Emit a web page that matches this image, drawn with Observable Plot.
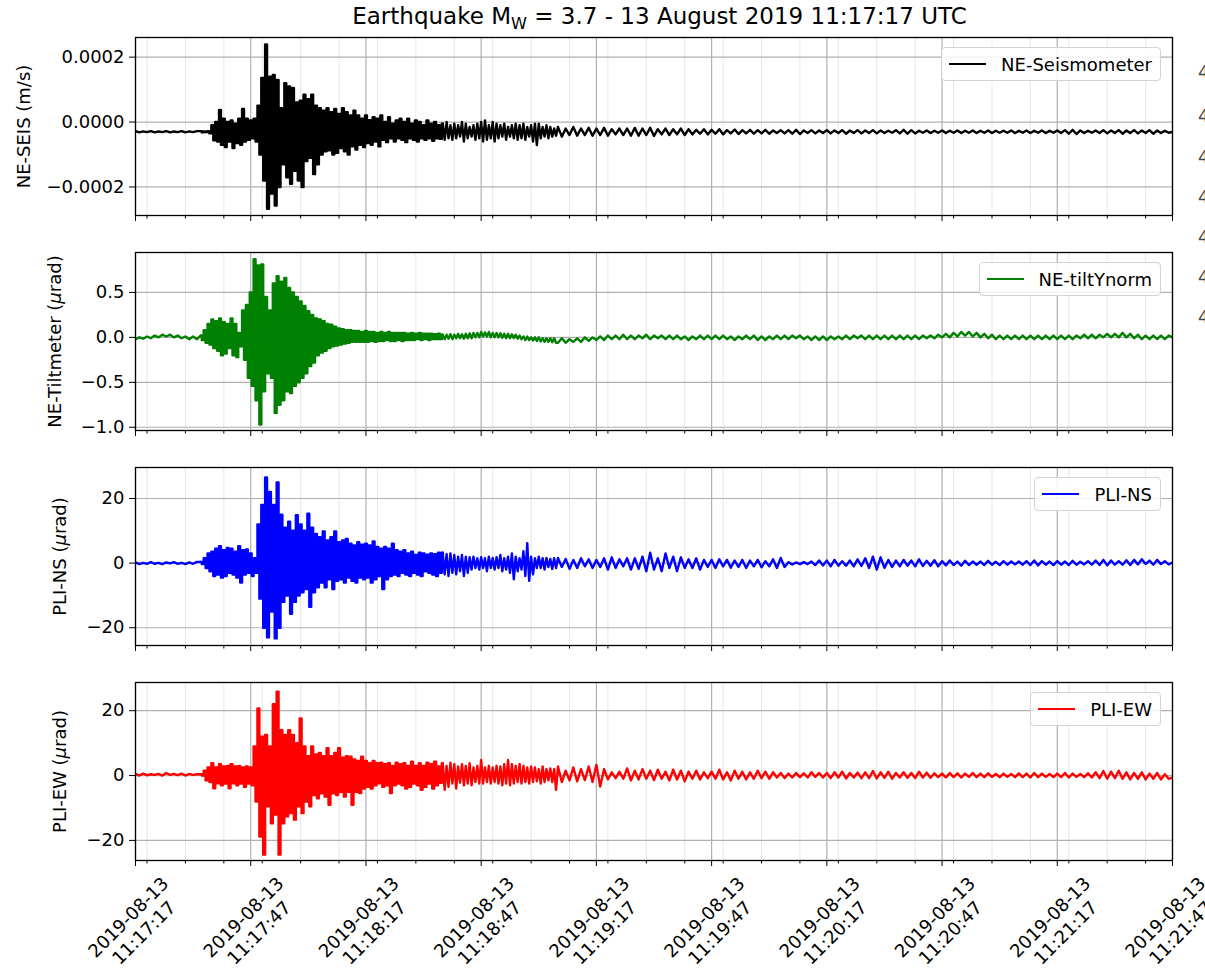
<!DOCTYPE html>
<html><head><meta charset="utf-8">
<script src="https://cdn.jsdelivr.net/npm/d3@7"></script>
<script src="https://cdn.jsdelivr.net/npm/@observablehq/plot@0.6"></script>
<style>
html,body{margin:0;padding:0;background:#fff;overflow:hidden;}
#fig{position:relative;width:1205px;height:968px;overflow:hidden;font-family:"DejaVu Sans",sans-serif;color:#000;}
.panel{position:absolute;left:0;}
.title{position:absolute;left:141px;width:1037px;top:3px;text-align:center;font-size:23px;white-space:nowrap;}
.title sub{font-size:70%;vertical-align:-0.3em;line-height:0;}
.legend{position:absolute;right:44px;height:34px;box-sizing:border-box;border:1px solid #d3d3d3;border-radius:4px;background:rgba(255,255,255,0.85);display:flex;align-items:center;padding:0 8px 0 7px;font-size:18px;white-space:nowrap;}
.legend .sw{width:37px;height:2.7px;margin-right:15px;}
.edge{position:absolute;left:1198px;font-size:18px;color:#444;}
</style></head><body><div id="fig"></div>
<script>
// ---------- data ----------
// samples: 1 s steps before 11:17:34, 0.5 s steps 11:17:34–11:19:07, 1 s steps afterwards
const startTime = "2019-08-13T11:17:17Z";
const endTime = "2019-08-13T11:21:47Z";

// NE-Seismometer, in units of 1e-4 m/s
const seisPre = [-0.28,-0.32,-0.29,-0.31,-0.28,-0.32,-0.29,-0.31,-0.28,-0.32,-0.29,-0.31,-0.28,-0.32,-0.29,-0.31,-0.28];
const seisMain = [
-0.28,-0.32, -0.29,-0.31, -0.28,-0.35,
-0.1,-0.56, 0.0,-0.6, 0.37,-0.7, 0.1,-0.77, 0.0,-0.6, 0.05,-0.8, -0.05,-0.65, 0.1,-0.7, 0.4,-0.6, 0.1,-0.55,
0.05,-0.5, 0.1,-0.6, 0.5,-1.0, 1.36,-1.8, 2.39,-2.67, 1.4,-2.2, 1.45,-2.57, 1.3,-2.0, 0.43,-1.3, 1.2,-1.7,
1.1,-1.9, 1.05,-1.5, 0.6,-1.8, 0.66,-2.0, 0.84,-1.2, 0.7,-1.1, 0.84,-1.6, 0.5,-1.3, 0.43,-1.0, 0.35,-0.9,
0.43,-0.87, 0.3,-1.0, 0.4,-0.95, 0.25,-0.8, 0.43,-0.9, 0.3,-1.0, 0.2,-0.75, 0.35,-0.85, 0.2,-0.7, 0.1,-0.77,
0.2,-0.65, 0.06,-0.7, 0.15,-0.6, 0.1,-0.75, 0.2,-0.55, 0.0,-0.62, 0.15,-0.5, -0.05,-0.6, 0.05,-0.5, 0.1,-0.55,
0.0,-0.62, 0.1,-0.5, -0.05,-0.55, 0.05,-0.6, 0.0,-0.5, -0.1,-0.55, 0.05,-0.5, -0.05,-0.58, 0.0,-0.5, -0.1,-0.52,
-0.05,-0.55, 0.0,-0.5, -0.1,-0.55, -0.05,-0.5, -0.1,-0.45, 0.0,-0.6, -0.05,-0.5, -0.15,-0.45, -0.1,-0.55, -0.05,-0.5,
0.0,-0.6, 0.05,-0.55, -0.1,-0.5, 0.0,-0.6, -0.05,-0.5, -0.1,-0.45, -0.05,-0.55, -0.15,-0.45, -0.1,-0.5, -0.05,-0.55,
-0.1,-0.5, -0.05,-0.55, -0.15,-0.45, -0.1,-0.6, -0.05,-0.71, -0.05,-0.5, -0.15,-0.45, -0.1,-0.5, -0.15,-0.45, -0.2,-0.42
];
const seisTail = [
-0.15,-0.45,-0.2,-0.4,-0.15,-0.42,-0.2,-0.4,-0.18,-0.42,
-0.2,-0.4,-0.18,-0.42,-0.22,-0.38,-0.2,-0.4,-0.2,-0.42,
-0.18,-0.42,-0.2,-0.4,-0.18,-0.43,-0.22,-0.38,-0.2,-0.4,
-0.22,-0.38,-0.2,-0.4,-0.22,-0.38,-0.24,-0.36,-0.22,-0.38,
-0.24,-0.36,-0.22,-0.38,-0.25,-0.35,-0.23,-0.37,-0.25,-0.35,
-0.24,-0.36,-0.25,-0.35,-0.24,-0.36,-0.26,-0.34,-0.25,-0.35,
-0.25,-0.36,-0.24,-0.37,-0.26,-0.34,-0.25,-0.35,-0.26,-0.34,
-0.25,-0.35,-0.26,-0.34,-0.25,-0.36,-0.26,-0.34,-0.25,-0.35,
-0.26,-0.34,-0.25,-0.35,-0.26,-0.34,-0.27,-0.33,-0.25,-0.35,
-0.24,-0.36,-0.25,-0.35,-0.27,-0.33,-0.26,-0.34,-0.27,-0.33,
-0.26,-0.34,-0.27,-0.33,-0.26,-0.34,-0.27,-0.33,-0.26,-0.34,
-0.27,-0.33,-0.26,-0.34,-0.27,-0.33,-0.27,-0.33,-0.26,-0.34,
-0.27,-0.33,-0.26,-0.34,-0.27,-0.33,-0.26,-0.34,-0.27,-0.33,
-0.26,-0.34,-0.25,-0.36,-0.24,-0.37,-0.26,-0.34,-0.27,-0.33,
-0.26,-0.34,-0.25,-0.35,-0.26,-0.34,-0.25,-0.36,-0.26,-0.34,
-0.25,-0.35,-0.26,-0.34,-0.25,-0.36,-0.26,-0.34,-0.27,-0.33,-0.3
];

// NE-tiltYnorm, µrad
const tiltPre = [-0.02,0.0,-0.015,0.01,-0.01,0.02,0.0,0.03,0.01,0.03,0.0,0.02,-0.01,0.01,-0.02,0.01,-0.02];
const tiltMain = [
0.02,-0.03, 0.08,-0.06, 0.15,-0.08,
0.2,-0.12, 0.18,-0.15, 0.21,-0.2, 0.17,-0.18, 0.15,-0.12, 0.21,-0.2, 0.15,-0.22, 0.05,-0.1, 0.3,-0.25, 0.36,-0.45,
0.5,-0.54, 0.87,-0.7, 0.8,-0.97, 0.81,-0.6, 0.45,-0.4, 0.3,-0.45, 0.6,-0.84, 0.68,-0.75, 0.62,-0.7, 0.66,-0.6,
0.55,-0.62, 0.5,-0.54, 0.45,-0.5, 0.4,-0.45, 0.35,-0.4, 0.29,-0.32, 0.25,-0.28, 0.21,-0.2, 0.2,-0.17, 0.18,-0.15,
0.15,-0.12, 0.14,-0.1, 0.12,-0.09, 0.1,-0.08, 0.09,-0.07, 0.08,-0.06, 0.08,-0.05, 0.07,-0.05, 0.07,-0.05, 0.06,-0.05,
0.07,-0.05, 0.06,-0.04, 0.06,-0.05, 0.05,-0.04, 0.06,-0.04, 0.05,-0.03, 0.06,-0.04, 0.05,-0.04, 0.05,-0.03, 0.05,-0.04,
0.05,-0.03, 0.04,-0.03, 0.05,-0.03, 0.04,-0.02, 0.05,-0.03, 0.04,-0.02, 0.04,-0.03, 0.04,-0.02, 0.035,-0.02, 0.04,-0.02,
0.03,-0.02, 0.03,-0.015, 0.035,-0.02, 0.03,-0.01, 0.04,-0.01, 0.035,-0.015, 0.04,-0.01, 0.045,-0.01, 0.05,0.0, 0.05,0.0,
0.06,0.01, 0.055,0.01, 0.06,0.0, 0.05,0.0, 0.05,0.0, 0.045,-0.005, 0.04,-0.01, 0.04,-0.01, 0.035,-0.01, 0.03,-0.015,
0.02,-0.02, 0.01,-0.03, 0.01,-0.03, 0.0,-0.035, 0.0,-0.04, 0.0,-0.045, -0.01,-0.05, -0.01,-0.05, -0.01,-0.055, -0.01,-0.06
];
const tiltTail = [
-0.06,-0.01,-0.06,-0.02,-0.05,-0.01,-0.05,0.0,-0.04,0.0,
-0.03,0.01,-0.03,0.02,-0.02,0.02,-0.02,0.03,-0.02,0.02,
-0.02,0.02,-0.01,0.03,-0.02,0.02,-0.01,0.02,-0.02,0.02,
-0.02,0.02,-0.02,0.01,-0.03,0.01,-0.02,0.02,-0.02,0.02,
-0.02,0.02,-0.02,0.02,-0.02,0.01,-0.03,0.01,-0.02,0.02,
-0.02,0.02,-0.03,0.01,-0.03,0.01,-0.02,0.02,-0.02,0.02,
-0.02,0.02,-0.01,0.02,-0.02,0.01,-0.03,0.01,-0.03,0.01,
-0.03,0.01,-0.02,0.01,-0.02,0.02,-0.02,0.02,-0.01,0.02,
-0.02,0.02,-0.02,0.02,-0.02,0.02,-0.02,0.02,-0.02,0.02,
-0.02,0.02,-0.02,0.02,-0.02,0.02,-0.01,0.02,-0.01,0.03,
0.0,0.04,0.0,0.05,0.01,0.06,0.02,0.06,0.01,0.05,
0.0,0.04,-0.01,0.03,-0.02,0.02,-0.02,0.02,-0.02,0.02,
-0.02,0.02,-0.02,0.02,-0.02,0.02,-0.02,0.02,-0.02,0.02,
-0.02,0.02,-0.02,0.02,-0.02,0.02,-0.01,0.03,-0.01,0.03,
-0.01,0.03,0.0,0.04,0.0,0.04,0.0,0.05,0.0,0.04,
-0.01,0.03,-0.02,0.02,-0.02,0.02,-0.02,0.02,-0.02,0.02,0.0
];

// PLI-NS, µrad
const nsPre = [0.2,-0.3,0.1,-0.2,0.3,-0.2,0.1,-0.3,0.2,-0.1,0.3,-0.2,0.1,-0.3,0.2,-0.2,0.4];
const nsMain = [
0.4,-0.3, 1.5,-1.5, 3.0,-2.5,
3.5,-4.0, 4.5,-3.5, 5.2,-4.5, 4.0,-4.0, 4.7,-3.0, 4.5,-3.5, 3.5,-4.5, 5.2,-6.0, 4.0,-3.5, 4.2,-3.0,
3.0,-4.0, 1.5,-3.0, 12.0,-11.0, 18.0,-20.0, 26.5,-23.0, 22.0,-15.0, 18.0,-23.3, 25.0,-20.0, 15.0,-12.0, 11.0,-10.0,
12.8,-15.7, 10.0,-12.0, 14.8,-10.0, 12.0,-9.0, 10.0,-8.0, 15.3,-13.5, 11.0,-9.0, 9.0,-7.5, 8.0,-6.0, 9.8,-7.5,
7.0,-5.0, 8.0,-8.0, 9.8,-5.5, 6.5,-5.0, 7.0,-6.0, 7.5,-4.5, 6.0,-5.5, 5.5,-6.0, 6.5,-4.5, 5.7,-5.0,
6.0,-4.5, 5.5,-6.0, 6.7,-5.0, 5.0,-4.0, 4.5,-8.0, 5.0,-5.0, 4.5,-4.0, 6.0,-3.5, 4.0,-4.0, 3.5,-3.0,
4.0,-3.5, 3.0,-4.0, 3.5,-3.0, 2.5,-3.5, 3.2,-4.0, 3.0,-2.5, 2.6,-3.0, 3.0,-3.5, 2.8,-4.0, 3.2,-3.0,
3.2,-3.5, 2.8,-4.0, 3.0,-3.0, 2.5,-3.5, 2.0,-2.5, 2.5,-4.0, 2.0,-3.0, 1.8,-2.0, 2.0,-1.5, 1.5,-2.0,
1.8,-1.5, 1.5,-2.5, 2.0,-1.5, 1.6,-2.0, 1.8,-1.5, 2.5,-2.5, 1.5,-2.0, 2.0,-3.0, 3.0,-5.0, 2.0,-2.5,
1.5,-2.0, 3.7,-4.0, 6.2,-5.5, 2.0,-3.5, 1.5,-1.5, 2.0,-1.5, 1.5,-2.0, 1.6,-1.2, 1.3,-1.8, 1.5,-1.5
];
const nsTail = [
1.6,-1.2,1.3,-1.8,1.0,-1.5,1.5,-1.0,1.2,-1.5,
1.0,-1.2,1.5,-2.0,1.8,-1.5,1.2,-1.0,1.5,-2.0,
1.5,-1.8,2.0,-2.5,3.2,-2.0,1.5,-2.5,3.0,-1.5,
2.0,-2.5,1.8,-1.5,1.2,-1.5,1.5,-2.0,1.0,-1.2,
1.0,-1.5,1.2,-1.0,1.0,-1.4,0.8,-1.2,1.0,-1.5,
0.8,-1.0,1.0,-1.3,0.6,-1.0,1.2,-1.5,1.6,-1.2,
0.3,-0.4,0.2,-0.3,0.3,-0.3,0.5,-0.6,0.8,-0.7,
0.8,-1.0,1.0,-0.8,0.6,-0.8,0.8,-1.0,1.2,-0.9,
1.5,-1.5,2.0,-2.0,1.8,-1.5,1.0,-1.2,0.8,-1.0,
1.0,-0.8,0.8,-1.0,1.2,-0.9,0.7,-0.8,0.9,-1.0,
0.6,-0.7,0.8,-0.6,0.5,-0.8,0.7,-0.6,0.5,-0.5,
0.5,-0.6,0.7,-0.5,0.4,-0.6,0.6,-0.5,0.5,-0.4,
0.5,-0.5,0.6,-0.6,0.8,-0.7,0.6,-0.5,0.5,-0.6,
0.6,-0.5,0.5,-0.6,0.7,-0.5,0.4,-0.4,0.6,-0.5,
0.8,-0.6,1.0,-0.7,0.8,-0.5,0.6,-0.5,0.9,-0.6,
1.0,-0.4,1.2,-0.3,0.8,-0.5,1.0,-0.3,0.6,-0.4,0.2
];

// PLI-EW, µrad
const ewPre = [0.5,0.0,0.6,0.1,0.4,0.2,0.5,0.0,0.8,0.2,0.5,0.1,0.6,0.0,0.5,0.2,0.4];
const ewMain = [
0.4,0.0, 1.5,-1.5, 2.5,-2.0,
3.8,-3.9, 2.5,-2.4, 3.5,-3.0, 2.8,-2.5, 3.0,-3.9, 3.5,-2.4, 2.8,-3.0, 3.0,-2.5, 2.5,-3.5, 2.8,-2.5,
2.5,-3.0, 9.0,-8.0, 20.7,-18.8, 12.0,-24.4, 12.5,-9.5, 9.0,-14.7, 22.0,-12.0, 25.9,-24.4, 14.0,-14.7, 12.5,-12.6,
14.0,-11.6, 12.5,-13.6, 10.0,-9.5, 17.6,-11.6, 9.0,-8.0, 6.0,-9.5, 9.0,-6.0, 6.5,-7.0, 7.0,-5.5, 6.0,-6.5,
8.4,-9.0, 6.0,-5.5, 7.0,-6.0, 8.4,-5.0, 5.5,-6.5, 6.0,-5.0, 5.8,-9.0, 5.0,-5.0, 4.5,-5.4, 5.8,-4.0,
4.5,-3.5, 3.8,-4.0, 4.5,-3.0, 3.8,-2.4, 4.0,-3.5, 3.5,-3.0, 3.8,-5.4, 3.0,-3.0, 4.0,-2.5, 3.5,-3.0,
3.8,-4.0, 3.0,-3.5, 4.3,-2.5, 3.0,-3.0, 3.8,-4.4, 3.0,-3.5, 4.0,-2.5, 3.5,-4.0, 4.3,-3.0, 2.8,-2.2,
3.8,-4.4, 3.0,-3.5, 4.0,-2.5, 3.5,-4.0, 2.8,-2.2, 3.5,-3.0, 3.0,-2.5, 3.8,-3.0, 2.5,-2.0, 3.0,-2.5,
4.8,-2.5, 2.5,-2.0, 3.0,-2.5, 2.5,-2.0, 3.0,-2.5, 2.8,-3.0, 3.5,-2.5, 4.8,-3.0, 3.5,-2.5, 3.0,-2.0,
3.6,-2.5, 3.0,-2.0, 2.5,-2.5, 2.8,-2.0, 2.5,-1.8, 2.0,-2.5, 2.8,-2.0, 2.0,-1.5, 2.2,-2.0, 2.0,-4.4
];
const ewTail = [
2.8,-2.0,1.5,-1.5,2.5,-1.8,2.0,-1.4,2.8,-2.0,
3.3,-3.4,2.0,-1.2,1.0,-0.8,1.2,-1.0,2.2,-1.5,
1.5,-1.2,2.0,-1.0,1.5,-1.4,1.8,-1.0,1.2,-1.5,
1.8,-1.2,1.5,-1.8,1.2,-1.0,1.5,-1.2,1.0,-0.8,
1.2,-1.0,1.8,-1.2,1.0,-1.5,1.5,-1.0,1.2,-1.2,
1.0,-1.0,1.5,-0.8,1.2,-1.0,1.0,-0.6,0.8,-0.8,
0.6,-0.6,0.8,-0.5,0.7,-0.6,1.0,-0.4,0.8,-0.6,
0.8,-0.8,1.0,-0.6,1.2,-0.9,0.8,-0.6,0.9,-0.8,
1.0,-0.8,1.4,-0.9,1.0,-0.7,1.2,-1.0,0.8,-0.6,
1.0,-0.7,0.8,-0.8,1.2,-0.6,0.9,-0.7,0.7,-0.5,
0.6,-0.6,0.8,-0.5,0.7,-0.6,0.6,-0.4,0.8,-0.5,
0.6,-0.5,0.7,-0.4,0.5,-0.5,0.6,-0.4,0.5,-0.5,
0.7,-0.5,0.6,-0.6,0.8,-0.5,0.6,-0.4,0.5,-0.5,
0.6,-0.5,0.8,-0.6,0.6,-0.4,0.5,-0.5,0.7,-0.6,
1.0,-0.8,1.4,-1.0,1.2,-0.8,1.5,-1.0,1.0,-1.2,
0.8,-1.0,1.0,-1.2,0.6,-1.0,0.8,-1.2,0.4,-1.0,-0.6
];

// ticks and labels
const xTickDate = "2019-08-13";
const xTickTimes = ["11:17:17","11:17:47","11:18:17","11:18:47","11:19:17","11:19:47","11:20:17","11:20:47","11:21:17","11:21:47"];
const seisTicks = [-0.0002, 0, 0.0002];
const tiltTicks = [-1.0, -0.5, 0, 0.5];
const nsTicks = [-20, 0, 20];
const ewTicks = [-20, 0, 20];
const seriesNames = ["NE-Seismometer", "NE-tiltYnorm", "PLI-NS", "PLI-EW"];
const yLabels = ["NE-SEIS (m/s)", "NE-Tiltmeter (μrad)", "PLI-NS (μrad)", "PLI-EW (μrad)"];
const seriesColors = ["#000000", "#008000", "#0000ff", "#ff0000"];

// ---------- drawing ----------
const t0 = new Date(startTime), t1 = new Date(endTime);
// sample offsets in seconds (sampling grid of the three segments)
const offsets = [...d3.range(0, 17, 1), ...d3.range(17, 110, 0.5), ...d3.range(110, 271, 1)];
const I17 = 17, I80 = 17 + 126; // indices of the samples at +17 s and +80 s
const majorTicks = xTickTimes.map(s => new Date(`${xTickDate}T${s}Z`));
const majorSet = new Set(majorTicks.map(d => +d));
const minorTicks = d3.utcSecond.every(10).range(t0, new Date(+t1 + 1)).filter(d => !majorSet.has(+d));

const fig = document.getElementById("fig");
const FRAME_TOPS = [37, 252, 467, 682];
const FRAME_H = 178;
const ML = 135, MR = 33;

function table(parts, k) {
  const values = [].concat(...parts);
  return values.map((v, i) => ({t: new Date(+t0 + offsets[i] * 1000), v: v * k}));
}

const panels = [
  {data: table([seisPre, seisMain, seisTail], 1e-4), domain: [-0.000288, 0.0002605], ticks: seisTicks, fmt: d3.format(".4f"), labelX: 24},
  {data: table([tiltPre, tiltMain, tiltTail], 1), domain: [-1.036, 0.944], ticks: tiltTicks, fmt: d3.format(".1f"), labelX: 55},
  {data: table([nsPre, nsMain, nsTail], 1), domain: [-25.5, 29.6], ticks: nsTicks, fmt: d3.format("d"), labelX: 60},
  {data: table([ewPre, ewMain, ewTail], 1), domain: [-26.2, 28.7], ticks: ewTicks, fmt: d3.format("d"), labelX: 60}
];

panels.forEach((p, i) => {
  const last = i === panels.length - 1;
  const mt = 5;
  const mb = last ? 968 - FRAME_TOPS[i] - FRAME_H : 10;
  const lineOpts = {x: "t", y: "v", stroke: seriesColors[i], strokeWidth: 2.4, clip: true};
  const marks = [
    Plot.gridX(minorTicks, {stroke: "#b0b0b0", strokeOpacity: 0.3, strokeWidth: 1}),
    Plot.gridX(majorTicks, {stroke: "#b0b0b0", strokeOpacity: 1, strokeWidth: 1.2}),
    Plot.gridY(p.ticks, {stroke: "#b0b0b0", strokeOpacity: 1, strokeWidth: 1.2}),
    // quiet part before the event
    Plot.line(p.data.slice(0, I17 + 1), lineOpts),
    // strong shaking: dense half-second extremes drawn as a step trace (min/max per column look)
    Plot.line(p.data.slice(I17, I80 + 1), {...lineOpts, curve: "step"}),
    // coda
    Plot.line(p.data.slice(I80), lineOpts),
    Plot.frame({stroke: "#000", strokeWidth: 1.3}),
    Plot.axisY(p.ticks, {tickSize: 6, tickPadding: 5, tickFormat: p.fmt, label: null, fontSize: 18}),
    Plot.axisX(majorTicks, {tickSize: 6, tickFormat: () => "", label: null}),
    Plot.axisX(minorTicks, {tickSize: 3.5, tickFormat: () => "", label: null}),
    Plot.text([yLabels[i]], {frameAnchor: "left", rotate: -90, dx: p.labelX - ML, fontSize: 18, textAnchor: "middle", lineAnchor: "middle"})
  ];
  if (last) {
    marks.push(Plot.text(majorTicks, {
      x: d => d, text: d => `${xTickDate}\n${d3.utcFormat("%H:%M:%S")(d)}`,
      frameAnchor: "bottom", dy: 64, rotate: -45, textAnchor: "middle", lineAnchor: "middle",
      lineHeight: 1.22, fontSize: 18
    }));
  }
  const svg = Plot.plot({
    width: 1205, height: mt + FRAME_H + mb,
    marginLeft: ML, marginRight: MR, marginTop: mt, marginBottom: mb,
    style: {fontFamily: "DejaVu Sans", fontSize: "18px", background: "transparent", overflow: "visible", color: "#000"},
    x: {type: "utc", domain: [t0, t1]},
    y: {domain: p.domain},
    marks
  });
  svg.classList.add("panel");
  svg.style.top = (FRAME_TOPS[i] - mt) + "px";
  // italic µ as in the original mathtext labels
  svg.querySelectorAll("text").forEach(el => {
    if (el.children.length === 0 && el.textContent.includes("μ")) {
      el.innerHTML = el.textContent.replace("μ", '<tspan font-style="italic">μ</tspan>');
    }
  });
  fig.appendChild(svg);

  const lg = document.createElement("div");
  lg.className = "legend";
  lg.style.top = (FRAME_TOPS[i] + 10) + "px";
  lg.innerHTML = `<span class="sw" style="background:${seriesColors[i]}"></span><span>${seriesNames[i]}</span>`;
  fig.appendChild(lg);
});

const title = document.createElement("div");
title.className = "title";
title.innerHTML = "Earthquake M<sub>W</sub> = 3.7 - 13 August 2019 11:17:17 UTC";
fig.appendChild(title);

// clipped glyphs visible at the right edge of the original image
[73, 117, 158, 198, 238, 278, 318].forEach(y => {
  const e = document.createElement("div");
  e.className = "edge";
  e.style.top = (y - 12) + "px";
  e.textContent = "4";
  fig.appendChild(e);
});
</script></body></html>
